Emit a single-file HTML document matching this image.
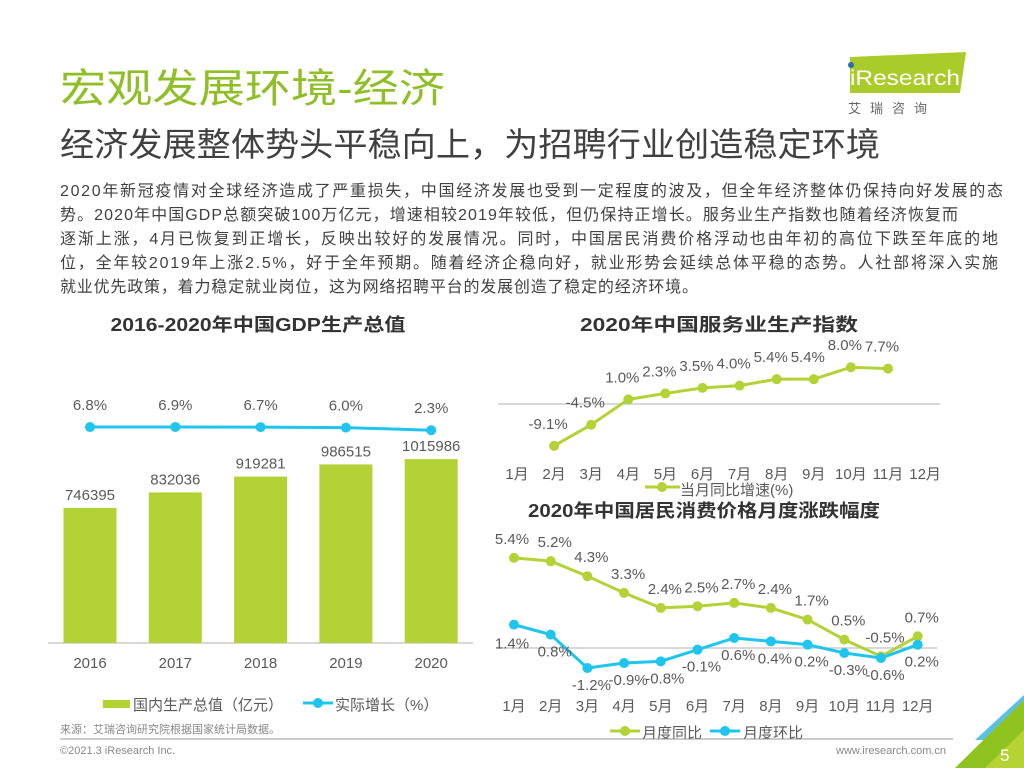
<!DOCTYPE html>
<html><head><meta charset="utf-8">
<style>
body{margin:0;width:1024px;height:768px;overflow:hidden;background:#fff;font-family:"Liberation Sans","Noto Sans CJK SC",sans-serif;}
svg{position:absolute;left:0;top:0}
</style></head>
<body>
<svg width="1024" height="768" font-family="Liberation Sans, Noto Sans CJK SC, sans-serif">
<g>
<text x="60" y="102" font-size="40" fill="#8fbf26" textLength="385" lengthAdjust="spacingAndGlyphs">宏观发展环境-经济</text>
</g>
<text x="60" y="156" font-size="33" fill="#404040" textLength="820" lengthAdjust="spacingAndGlyphs">经济发展整体势头平稳向上，为招聘行业创造稳定环境</text>
<g font-size="16" fill="#404040">
<text x="60" y="196" textLength="943" lengthAdjust="spacing">2020年新冠疫情对全球经济造成了严重损失，中国经济发展也受到一定程度的波及，但全年经济整体仍保持向好发展的态</text>
<text x="60" y="220" textLength="898" lengthAdjust="spacing">势。2020年中国GDP总额突破100万亿元，增速相较2019年较低，但仍保持正增长。服务业生产指数也随着经济恢复而</text>
<text x="60" y="244" textLength="938" lengthAdjust="spacing">逐渐上涨，4月已恢复到正增长，反映出较好的发展情况。同时，中国居民消费价格浮动也由年初的高位下跌至年底的地</text>
<text x="60" y="268" textLength="938" lengthAdjust="spacing">位，全年较2019年上涨2.5%，好于全年预期。随着经济企稳向好，就业形势会延续总体平稳的态势。人社部将深入实施</text>
<text x="60" y="292" textLength="638" lengthAdjust="spacing">就业优先政策，着力稳定就业岗位，这为网络招聘平台的发展创造了稳定的经济环境。</text>
</g>
<g>
<polygon points="850,57 966,52 960,93 850,93" fill="#a9cc2a"/>
<circle cx="851" cy="65" r="3" fill="#2a6db5"/>
<text x="850" y="85" font-size="21" fill="#fff" textLength="110" lengthAdjust="spacingAndGlyphs">iResearch</text>
<text x="848" y="113" font-size="13" fill="#666" letter-spacing="9">艾瑞咨询</text>
</g>
<g font-size="18" font-weight="bold" fill="#333" text-anchor="middle">
<text x="258" y="331" textLength="295" lengthAdjust="spacingAndGlyphs">2016-2020年中国GDP生产总值</text>
<text x="719" y="331" textLength="278" lengthAdjust="spacingAndGlyphs">2020年中国服务业生产指数</text>
<text x="704" y="517" textLength="352" lengthAdjust="spacingAndGlyphs">2020年中国居民消费价格月度涨跌幅度</text>
</g>
<g id="gdp"></g>
<g id="svc"></g>
<g id="cpi"></g>
<text x="60" y="733" font-size="11" fill="#888">来源：艾瑞咨询研究院根据国家统计局数据。</text>
<line x1="60" y1="739" x2="953" y2="739" stroke="#999" stroke-width="1"/>
<text x="60" y="754" font-size="11" fill="#888">©2021.3 iResearch Inc.</text>
<text x="836" y="754" font-size="11" fill="#888">www.iresearch.com.cn</text>
<g>
<polygon points="1024,695 975,740 1024,740" fill="#5bc0e8"/>
<polygon points="1024,700 955,768 1024,768" fill="#8fc31f"/>
<polygon points="985,768 1024,730 1024,768" fill="#b5d334"/>
<text x="1000" y="761" font-size="17" fill="#fff">5</text>
</g>
</svg>
<script>
const NS='http://www.w3.org/2000/svg';
function mk(p,t,a){const e=document.createElementNS(NS,t);for(const k in a)e.setAttribute(k,a[k]);p.appendChild(e);return e;}
const GREEN='#b3d235',BLUE='#1fc4ef',TXT='#595959';

// GDP data
const gdpYears=['2016','2017','2018','2019','2020'];
const gdpValues=[746395,832036,919281,986515,1015986];
const gdpGrowth=[6.8,6.9,6.7,6.0,2.3];
// Service index
const months=['1月','2月','3月','4月','5月','6月','7月','8月','9月','10月','11月','12月'];
const svcValues=[null,-9.1,-4.5,1.0,2.3,3.5,4.0,5.4,5.4,8.0,7.7,null];
// CPI
const cpiYoY=[5.4,5.2,4.3,3.3,2.4,2.5,2.7,2.4,1.7,0.5,-0.5,0.7];
const cpiMoM=[1.4,0.8,-1.2,-0.9,-0.8,-0.1,0.6,0.4,0.2,-0.3,-0.6,0.2];

// GDP chart
(function(){
 const g=document.getElementById('gdp');
 const base=643, x=i=>90+i*85.3, h=v=>v*1.81e-4, ly=v=>431.8-v*0.7;
 mk(g,'line',{x1:48,y1:base,x2:473,y2:base,stroke:'#ccc','stroke-width':1.5});
 gdpValues.forEach((v,i)=>{
  const b=mk(g,'rect',{x:x(i)-26.5,y:base-h(v),width:53,height:h(v),fill:GREEN});
  
  
  const t=mk(g,'text',{x:x(i),y:base-h(v)-8,'font-size':15,fill:TXT,'text-anchor':'middle'});t.textContent=v;
  const yl=mk(g,'text',{x:x(i),y:668,'font-size':15,fill:TXT,'text-anchor':'middle'});yl.textContent=gdpYears[i];
 });
 mk(g,'polyline',{points:gdpGrowth.map((v,i)=>x(i)+','+ly(v)).join(' '),fill:'none',stroke:BLUE,'stroke-width':3});
 gdpGrowth.forEach((v,i)=>{
  const c=mk(g,'circle',{cx:x(i),cy:ly(v),r:5,fill:BLUE});
  
  
  const t=mk(g,'text',{x:x(i),y:ly(v)-17,'font-size':15,fill:TXT,'text-anchor':'middle'});t.textContent=v.toFixed(1)+'%';
 });
 mk(g,'rect',{x:103,y:700,width:27,height:8,fill:GREEN});
 const l1=mk(g,'text',{x:133,y:710,'font-size':15,fill:TXT});l1.textContent='国内生产总值（亿元）';
 mk(g,'line',{x1:303,y1:703,x2:333,y2:703,stroke:BLUE,'stroke-width':3});
 mk(g,'circle',{cx:318,cy:703,r:5,fill:BLUE});
 const l2=mk(g,'text',{x:335,y:710,'font-size':15,fill:TXT});l2.textContent='实际增长（%）';
})();

// Service chart
(function(){
 const g=document.getElementById('svc');
 const x=i=>517+i*37.1, y=v=>404-v*4.6;
 mk(g,'line',{x1:498,y1:404,x2:940,y2:404,stroke:'#ccc','stroke-width':1.5});
 months.forEach((m,i)=>{const t=mk(g,'text',{x:x(i),y:479,'font-size':15,fill:TXT,'text-anchor':'middle'});t.textContent=m;});
 const pts=[];svcValues.forEach((v,i)=>{if(v!==null)pts.push(x(i)+','+y(v));});
 mk(g,'polyline',{points:pts.join(' '),fill:'none',stroke:GREEN,'stroke-width':3});
 svcValues.forEach((v,i)=>{if(v===null)return;
  const c=mk(g,'circle',{cx:x(i),cy:y(v),r:5,fill:GREEN});
  
  
  const t=mk(g,'text',{x:x(i)-6,y:y(v)-17,'font-size':15,fill:TXT,'text-anchor':'middle'});t.textContent=v.toFixed(1)+'%';
 });
 mk(g,'line',{x1:645,y1:487,x2:680,y2:487,stroke:GREEN,'stroke-width':3});
 mk(g,'circle',{cx:662,cy:487,r:5,fill:GREEN});
 const l=mk(g,'text',{x:680,y:495,'font-size':15,fill:TXT});l.textContent='当月同比增速(%)';
})();

// CPI chart
(function(){
 const g=document.getElementById('cpi');
 const x=i=>514+i*36.7, y=v=>648-v*16.7;
 mk(g,'line',{x1:497,y1:648,x2:937,y2:648,stroke:'#ccc','stroke-width':1.5});
 months.forEach((m,i)=>{const t=mk(g,'text',{x:x(i),y:711,'font-size':15,fill:TXT,'text-anchor':'middle'});t.textContent=m;});
 [[cpiYoY,GREEN,-14,'cpi-yoy-point'],[cpiMoM,BLUE,22,'cpi-mom-point']].forEach(([arr,col,off,nm])=>{
  mk(g,'polyline',{points:arr.map((v,i)=>x(i)+','+y(v)).join(' '),fill:'none',stroke:col,'stroke-width':3});
  arr.forEach((v,i)=>{
   const c=mk(g,'circle',{cx:x(i),cy:y(v),r:5,fill:col});
   
   
   const t=mk(g,'text',{x:x(i)+(i===0?-2:4),y:y(v)+off+(col===BLUE&&i===0?2:0),'font-size':15,fill:TXT,'text-anchor':'middle'});t.textContent=v.toFixed(1)+'%';
  });
 });
 mk(g,'line',{x1:610,y1:731,x2:640,y2:731,stroke:GREEN,'stroke-width':3});
 mk(g,'circle',{cx:625,cy:731,r:5,fill:GREEN});
 const a=mk(g,'text',{x:642,y:738,'font-size':15,fill:TXT});a.textContent='月度同比';
 mk(g,'line',{x1:710,y1:731,x2:740,y2:731,stroke:BLUE,'stroke-width':3});
 mk(g,'circle',{cx:725,cy:731,r:5,fill:BLUE});
 const b=mk(g,'text',{x:743,y:738,'font-size':15,fill:TXT});b.textContent='月度环比';
})();
</script>
</body></html>
